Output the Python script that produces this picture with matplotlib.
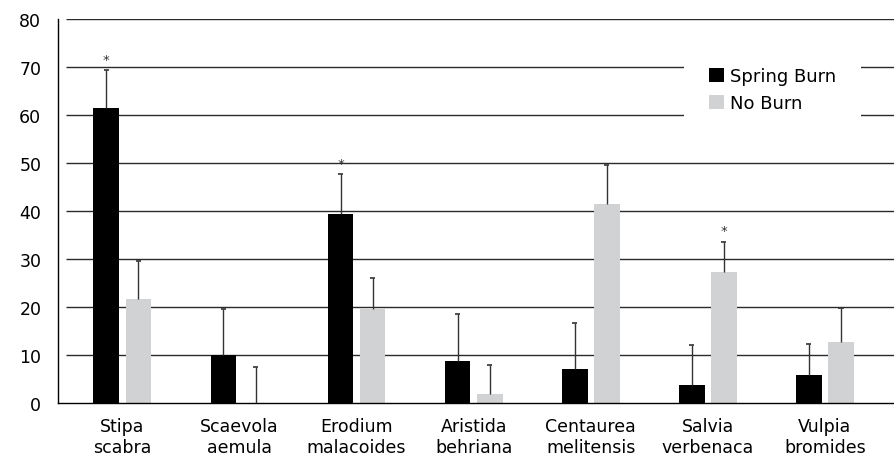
import numpy as np
import matplotlib
matplotlib.use("Agg")
import matplotlib.pyplot as plt

species = ["Stipa\nscabra", "Scaevola\naemula", "Erodium\nmalacoides", "Aristida\nbehriana",
           "Centaurea\nmelitensis", "Salvia\nverbenaca", "Vulpia\nbromides"]
spring_burn = [61.5, 10.1, 39.3, 8.8, 7.0, 3.7, 5.8]
spring_err = [7.9, 9.4, 8.4, 9.7, 9.7, 8.3, 6.4]
no_burn = [21.7, 0.0, 19.6, 1.8, 41.5, 27.3, 12.7]
no_burn_err = [7.9, 7.5, 6.4, 6.2, 8.0, 6.3, 7.0]
spring_star = [True, False, True, False, False, False, False]
no_burn_star = [False, False, False, False, False, True, False]
yticks = [0, 10, 20, 30, 40, 50, 60, 70, 80]

plt.rcParams['font.family'] = ['DejaVu Sans']

fig = plt.figure(figsize=(8.94, 4.56), dpi=100)
ax = fig.add_axes([58 / 894, 52 / 456, 1 - 58 / 894, (404 - 20) / 456])

x = np.arange(len(species))
w = 0.22
off = 0.137
cap = 0.022

# gridlines start a little right of the axis
ax.hlines(yticks[1:], -0.48, 6.7, color='#2a2a2a', lw=1, zorder=1)

ax.bar(x - off, spring_burn, w, color='black', zorder=2, label='Spring Burn')
ax.bar(x + off, no_burn, w, color='#d1d2d4', zorder=2, label='No Burn')

# upper error bars only, cap on top
for xs, vals, errs in [(x - off, spring_burn, spring_err), (x + off, no_burn, no_burn_err)]:
    tops = np.array(vals) + np.array(errs)
    ax.vlines(xs, vals, tops, color='#333333', lw=1, zorder=3)
    ax.hlines(tops, xs - cap, xs + cap, color='#333333', lw=1.2, zorder=3)

for i in range(len(x)):
    if spring_star[i]:
        ax.text(x[i] - off, spring_burn[i] + spring_err[i] + 0.9, '*', ha='center', va='bottom',
                fontsize=9.5, color='#333333')
    if no_burn_star[i]:
        ax.text(x[i] + off, no_burn[i] + no_burn_err[i] + 0.9, '*', ha='center', va='bottom',
                fontsize=9.5, color='#333333')

ax.set_xlim(-0.55, 6.59)
ax.set_ylim(0, 80)
ax.set_yticks(yticks)
ax.set_xticks(x)
ax.set_xticklabels(species, fontsize=12.5, linespacing=1.25)
ax.tick_params(axis='y', length=0, pad=12, labelsize=12.5)
ax.tick_params(axis='x', length=0, pad=10)

for s in ['top', 'right']:
    ax.spines[s].set_visible(False)
ax.spines['left'].set_linewidth(1)
ax.spines['bottom'].set_linewidth(1)

leg = ax.legend(loc='upper left', bbox_to_anchor=(0.749, 0.94), frameon=True, fontsize=13,
                handlelength=0.78, handleheight=0.78, handletextpad=0.35, labelspacing=0.5,
                borderpad=1.4, fancybox=False, borderaxespad=0)
leg.get_frame().set_edgecolor('white')
leg.get_frame().set_facecolor('white')
leg.get_frame().set_alpha(1)
leg.get_frame().set_linewidth(0)

fig.savefig("out.png", dpi=100)
